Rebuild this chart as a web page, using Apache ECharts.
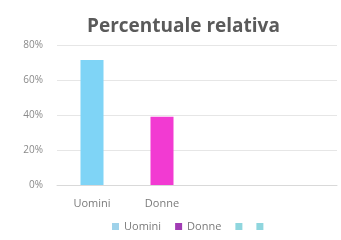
<!DOCTYPE html>
<html>
<head>
<meta charset="utf-8">
<script src="https://cdn.jsdelivr.net/npm/echarts@6/dist/echarts.min.js"></script>
<style>
    html, body { margin: 0; padding: 0; background: #fff; }
    #chart { width: 341px; height: 240px; }
</style>
</head>
<body>
<div id="chart"></div>
<script>
const categories = ['Uomini', 'Donne', '', ''];
const seriesNames = ['Uomini', 'Donne', ' ', '  '];
const values = [71.5, 39, null, null];
const yTicks = [0, 20, 40, 60, 80];

const barColors = ['#7fd4f6', '#f23ad2', '#8fd6de', '#8fd6de'];
const legendColors = ['#9fd2ea', '#a13cb4', '#8fd6de', '#8fd6de'];

const chart = echarts.init(document.getElementById('chart'));

// one series per category, stacked so each bar sits in the middle of its slot
const series = seriesNames.map(function (name, i) {
    return {
        name: name,
        type: 'bar',
        stack: 'all',
        barWidth: 23,
        itemStyle: { color: barColors[i] },
        data: categories.map(function (c, j) { return j === i ? values[i] : null })
    }
})

chart.setOption({
    animation: false,
    title: {
        text: 'Percentuale relativa',
        left: 82,
        top: 12,
        textStyle: {
            fontFamily: 'Open Sans',
            fontSize: 19,
            fontWeight: 'bold',
            color: '#5a5a5a'
        }
    },
    legend: {
        bottom: 3,
        left: 107,
        itemWidth: 7,
        itemHeight: 7,
        itemGap: 14,
        icon: 'rect',
        formatter: function (n) { return n.trim() },
        textStyle: { fontFamily: 'Open Sans', fontSize: 11, color: '#7a7a7a' },
        data: seriesNames.map(function (n, i) {
            return { name: n, itemStyle: { color: legendColors[i] } }
        })
    },
    grid: {
        left: 57,
        right: 4,
        top: 45,
        bottom: 55
    },
    xAxis: {
        type: 'category',
        data: categories,
        axisTick: { show: false },
        axisLine: { lineStyle: { color: '#d9d9d9' } },
        axisLabel: { fontFamily: 'Open Sans', fontSize: 11, color: '#7a7a7a', margin: 13 }
    },
    yAxis: {
        type: 'value',
        min: yTicks[0],
        max: yTicks[yTicks.length - 1],
        interval: 20,
        axisLine: { show: false },
        axisTick: { show: false },
        splitLine: { lineStyle: { color: '#e6e6e6' } },
        axisLabel: {
            fontFamily: 'Open Sans',
            fontSize: 10,
            color: '#8a8a8a',
            margin: 14,
            formatter: '{value}%'
        }
    },
    series: series
})
</script>
</body>
</html>
